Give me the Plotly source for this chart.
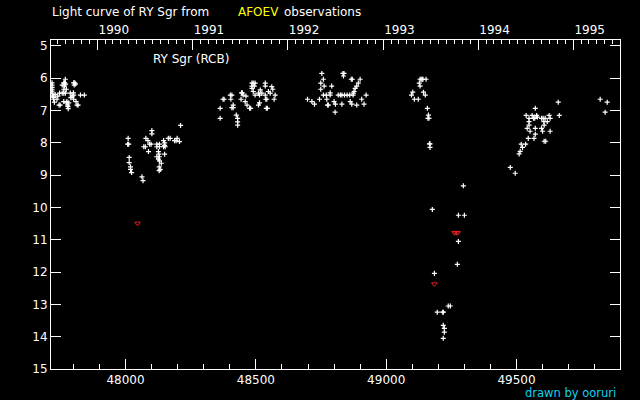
import datetime as dt
import plotly.graph_objects as go

# ---------------- data (JD - 2400000, visual magnitude) ----------------
obs_jd = [
    # 1989 bright phase
    47769, 47718, 47718, 47718, 47718, 47718, 47718, 47720, 47724,
    47757, 47763, 47766, 47770, 47766, 47801, 47805, 47803, 47808,
    47747, 47757, 47763, 47769, 47788, 47763, 47773, 47800, 47801,
    47827, 47842, 47724, 47737, 47727, 47745, 47749, 47763, 47773,
    47782, 47778, 47779, 47780, 47775, 47801, 47810, 47814, 47818,
    47730, 47740, 47790, 47795,
    # 1990 shallow fade
    48211, 48101, 48101, 48010, 48008, 48012, 48078, 48086, 48070,
    48076, 48092, 48098, 48088, 48120, 48120, 48130, 48130, 48146,
    48150, 48150, 48146, 48152, 48164, 48171, 48188, 48194, 48198,
    48207, 48126, 48128, 48130, 48126, 48130, 48150, 48120, 48137,
    48129, 48133, 48129, 48014, 48014, 48019, 48019, 48023, 48063, 48067,
    # 1991 recovery
    48363, 48363, 48374, 48378, 48402, 48408, 48404, 48413, 48413,
    48408, 48425, 48430, 48430, 48430, 48443, 48445, 48448, 48451,
    48462, 48459, 48466, 48476, 48480, 48485, 48490, 48497, 48485,
    48494, 48485, 48490, 48497, 48510, 48514, 48517, 48514, 48510,
    48536, 48536, 48523, 48536, 48538, 48542, 48548, 48555, 48561,
    48565, 48574, 48570, 48540, 48544,
    # 1992 maximum
    48753, 48834, 48836, 48838, 48759, 48749, 48762, 48749, 48791,
    48866, 48870, 48900, 48893, 48887, 48881, 48877, 48874, 48785,
    48785, 48759, 48770, 48816, 48824, 48830, 48840, 48850, 48860,
    48873, 48923, 48698, 48715, 48725, 48744, 48772, 48775, 48778,
    48800, 48805, 48830, 48862, 48868, 48887, 48915, 48906, 48804,
    # 1993 deep decline
    49130, 49134, 49138, 49141, 49153, 49127, 49130, 49102, 49097,
    49143, 49150, 49108, 49123, 49158, 49162, 49160, 49164, 49168,
    49166, 49168, 49177, 49185, 49196, 49217, 49219, 49238, 49246,
    49219, 49223, 49223, 49219, 49273, 49277, 49277, 49300, 49296,
    # 1994 recovery
    49572, 49660, 49537, 49560, 49577, 49580, 49565, 49570, 49548,
    49548, 49548, 49596, 49602, 49610, 49625, 49629, 49605, 49618,
    49664, 49606, 49541, 49572, 49596, 49552, 49600, 49629, 49572,
    49545, 49567, 49606, 49612, 49518, 49535, 49523, 49514, 49510,
    49476, 49495, 49821, 49848, 49840,
]
obs_mag = [
    6.03, 6.14, 6.21, 6.28, 6.34, 6.40, 6.46, 6.55, 6.59,
    6.21, 6.14, 6.14, 6.18, 6.24, 6.14, 6.14, 6.21, 6.18,
    6.46, 6.46, 6.46, 6.46, 6.46, 6.34, 6.34, 6.45, 6.52,
    6.52, 6.52, 6.65, 6.65, 6.74, 6.83, 6.83, 6.72, 6.76,
    6.76, 6.83, 6.88, 6.94, 6.72, 6.65, 6.72, 6.83, 6.83,
    6.50, 6.55, 6.60, 6.55,
    7.46, 7.62, 7.72, 7.86, 8.04, 8.04, 7.86, 7.93, 8.12,
    8.12, 8.04, 8.04, 8.27, 8.04, 8.12, 8.04, 8.12, 7.93,
    8.00, 8.08, 8.12, 8.12, 7.86, 7.86, 7.93, 7.93, 7.86,
    7.96, 8.27, 8.35, 8.43, 8.50, 8.56, 8.35, 8.43, 8.63,
    8.74, 8.82, 8.86, 8.45, 8.61, 8.74, 8.82, 8.92, 9.05, 9.17,
    7.24, 6.93, 6.65, 6.65, 6.52, 6.52, 6.65, 6.83, 6.91,
    6.91, 7.14, 7.24, 7.35, 7.45, 6.65, 6.45, 6.45, 6.52,
    6.55, 6.72, 6.83, 6.93, 6.93, 6.15, 6.15, 6.15, 6.24,
    6.24, 6.31, 6.41, 6.52, 6.46, 6.52, 6.36, 6.76, 6.83,
    6.15, 6.24, 6.46, 6.52, 6.65, 6.65, 6.41, 6.46, 6.26,
    6.34, 6.52, 6.65, 6.93, 6.93,
    5.85, 5.85, 5.93, 5.85, 6.03, 6.15, 6.24, 6.34, 6.24,
    6.03, 6.03, 6.03, 6.15, 6.24, 6.31, 6.41, 6.46, 6.45,
    6.52, 6.52, 6.52, 6.52, 6.52, 6.52, 6.52, 6.52, 6.52,
    6.52, 6.52, 6.65, 6.72, 6.80, 6.65, 6.65, 6.83, 6.83,
    6.72, 6.80, 6.80, 6.72, 6.80, 6.83, 6.80, 6.65, 7.05,
    6.03, 6.03, 6.03, 6.03, 6.03, 6.15, 6.24, 6.43, 6.52,
    6.43, 6.52, 6.65, 6.65, 6.93, 7.14, 7.24, 7.24, 8.03,
    8.03, 8.14, 10.06, 12.04, 13.24, 13.24, 13.24, 13.05, 13.05,
    13.65, 13.74, 13.86, 14.05, 11.76, 11.05, 10.24, 10.24, 9.33,
    6.93, 6.74, 7.15, 7.15, 7.15, 7.20, 7.24, 7.24, 7.24,
    7.34, 7.45, 7.24, 7.24, 7.24, 7.15, 7.24, 7.34, 7.34,
    7.15, 7.45, 7.55, 7.55, 7.55, 7.64, 7.64, 7.64, 7.73,
    7.86, 7.86, 7.95, 7.95, 8.04, 8.04, 8.14, 8.26, 8.34,
    8.76, 8.94, 6.65, 6.74, 7.05,
]
# "fainter than" estimates (red marks)
fainter_jd = [48046, 49185, 49262, 49268, 49274]
fainter_mag = [10.49, 12.37, 10.78, 10.78, 10.78]

mag_ticks = [5, 6, 7, 8, 9, 10, 11, 12, 13, 14, 15]
jd_major = [48000, 48500, 49000, 49500]
year_labels = ["1990", "1991", "1992", "1993", "1994", "1995"]

x_range = [47714, 49897]
y_range = [15, 4.815]

# ---------------- calendar ticks for the top axis ----------------
epoch = dt.date(1858, 11, 17)  # MJD 0


def date_to_jd(d):
    return (d - epoch).days + 0.5


year_ticks = [date_to_jd(dt.date(int(y), 1, 1)) for y in year_labels]
month_ticks = []
for yr in range(1989, 1996):
    for mo in range(1, 13):
        v = date_to_jd(dt.date(yr, mo, 1))
        if x_range[0] <= v <= x_range[1]:
            month_ticks.append(v)

FONT = "DejaVu Sans"
WHITE = "#ffffff"

fig = go.Figure()
fig.add_trace(go.Scatter(
    x=obs_jd, y=obs_mag, mode="markers", showlegend=False,
    marker=dict(symbol="cross-thin", size=3.6, color=WHITE,
                line=dict(color=WHITE, width=1.2)),
    hoverinfo="x+y",
))
fig.add_trace(go.Scatter(
    x=fainter_jd, y=fainter_mag, mode="markers", showlegend=False,
    marker=dict(symbol="triangle-down-open", size=5, color="#dd2020",
                line=dict(color="#dd2020", width=1)),
    hoverinfo="x+y",
))
fig.add_trace(go.Scatter(x=[], y=[], xaxis="x2", showlegend=False))

axis_common = dict(
    showgrid=False, zeroline=False, showline=True, linecolor=WHITE,
    linewidth=1, ticks="inside", tickcolor=WHITE, tickwidth=1,
    tickfont=dict(family=FONT, size=12, color=WHITE),
)

fig.update_layout(
    width=640, height=400,
    paper_bgcolor="#000000", plot_bgcolor="#000000",
    margin=dict(l=51, r=20, t=40, b=31, pad=0),
    xaxis=dict(
        **axis_common, range=x_range, tickmode="array", tickvals=jd_major,
        ticktext=[str(v) for v in jd_major], ticklen=10, mirror=False,
        minor=dict(dtick=100, tick0=47700, ticks="inside", ticklen=5,
                   tickcolor=WHITE, tickwidth=1, showgrid=False),
    ),
    xaxis2=dict(
        **axis_common, range=x_range, overlaying="x", side="top",
        tickmode="array", tickvals=year_ticks, ticktext=year_labels,
        ticklen=10, ticklabelposition="outside right",
        minor=dict(tickmode="array", tickvals=month_ticks, ticks="inside",
                   ticklen=4, tickcolor=WHITE, tickwidth=1, showgrid=False),
    ),
    yaxis=dict(
        **axis_common, range=y_range, tickmode="array", tickvals=mag_ticks,
        ticktext=[str(v) for v in mag_ticks], ticklen=10, mirror="ticks",
    ),
    annotations=[
        dict(text="Light curve of RY Sgr from", xref="paper", yref="paper",
             x=-0.002, y=1.085, xanchor="left", yanchor="middle",
             showarrow=False, font=dict(family=FONT, size=12, color=WHITE)),
        dict(text="AFOEV", xref="paper", yref="paper",
             x=0.326, y=1.085, xanchor="left", yanchor="middle",
             showarrow=False, font=dict(family=FONT, size=12, color="#ffff00")),
        dict(text="observations", xref="paper", yref="paper",
             x=0.406, y=1.085, xanchor="left", yanchor="middle",
             showarrow=False, font=dict(family=FONT, size=12, color=WHITE)),
        dict(text="RY Sgr (RCB)", xref="paper", yref="paper",
             x=0.176, y=0.942, xanchor="left", yanchor="middle",
             showarrow=False, font=dict(family=FONT, size=12, color=WHITE)),
        dict(text="drawn by ooruri", xref="paper", yref="paper",
             x=0.996, y=-0.072, xanchor="right", yanchor="middle",
             showarrow=False, font=dict(family=FONT, size=11.5, color="#10d0f0")),
    ],
)

fig.write_html(
    "out.html",
    config={"displayModeBar": False},
    post_script="document.body.style.margin='0px';document.body.style.overflow='hidden';",
)
